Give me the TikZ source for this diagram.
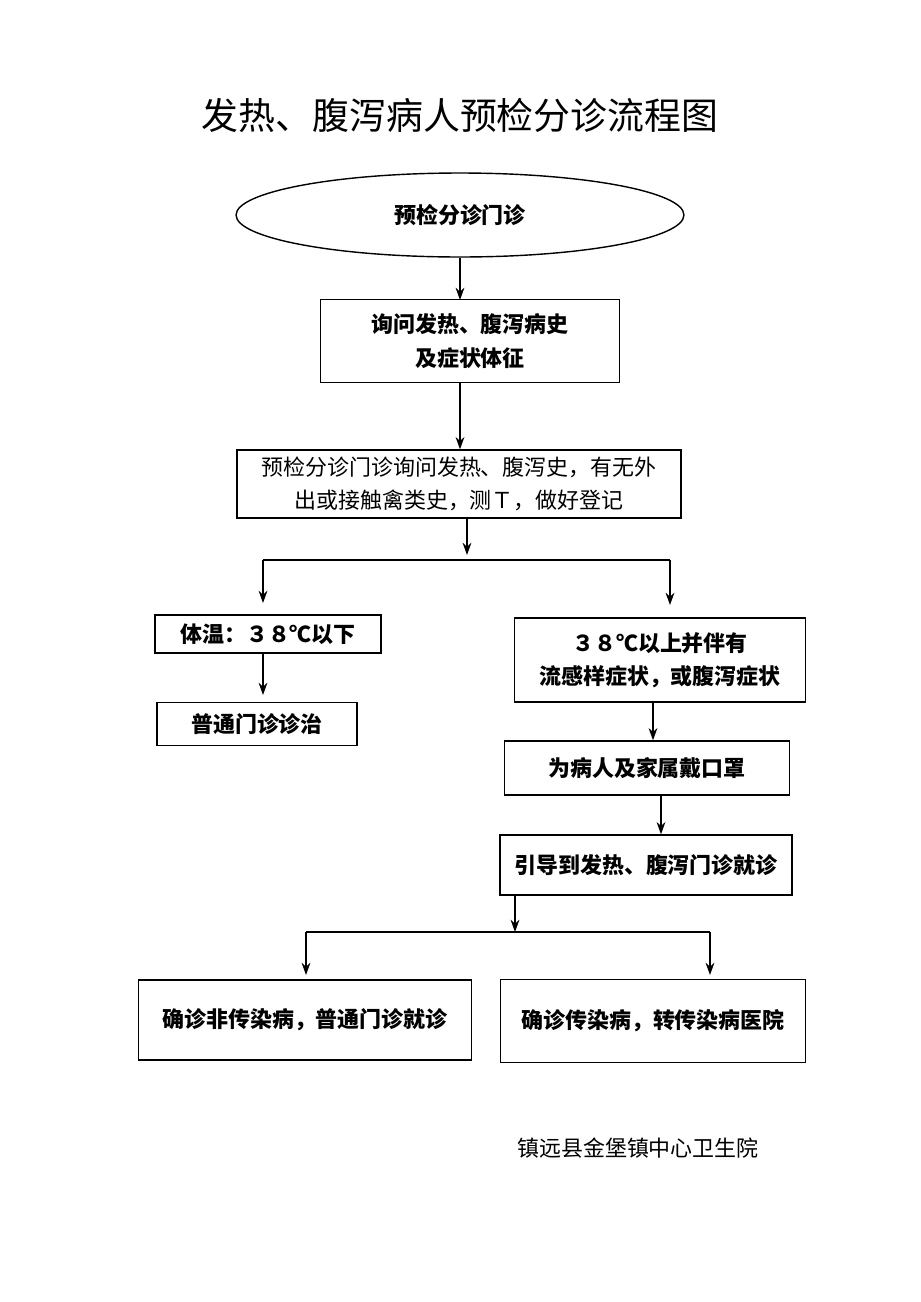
\documentclass[tikz,border=0pt]{standalone}
\usepackage{fontspec}
\setmainfont{Noto Sans CJK SC}
\usetikzlibrary{shapes.geometric,arrows.meta}

\begin{document}
\begin{tikzpicture}[
		x=0.02cm, y=-0.02cm,
		font=\fontsize{12.5pt}{19pt}\selectfont,
		box/.style = {draw, thick, rectangle, inner sep=0pt, align=center},
		bold/.style = {font=\fontsize{12.5pt}{19pt}\selectfont\bfseries},
		arr/.style = {-{Stealth[length=7pt,width=5pt]}, thick},
		line/.style = {-, thick}
	]
	\useasboundingbox (0,0) rectangle (920,1302);
	\node[font=\fontsize{21pt}{25pt}\selectfont] (title) at (460,115) {发热、腹泻病人预检分诊流程图};
	\node[draw, thick, ellipse, inner sep=0pt, bold,
		minimum width=8.96cm, minimum height=1.68cm] (start) at (460,215) {预检分诊门诊};
	\node[box, bold, minimum width=5.98cm, minimum height=1.66cm] (ask) at (470,341) {询问发热、腹泻病史\\及症状体征};
	\node[box, minimum width=8.88cm, minimum height=1.36cm] (reg) at (459,484) {预检分诊门诊询问发热、腹泻史，有无外\\出或接触禽类史，测Ｔ，做好登记};
	\coordinate (split) at (467,560);
	\coordinate (sl) at (263,560);
	\coordinate (sr) at (670,560);
	\node[box, bold, minimum width=4.52cm, minimum height=0.76cm] (low) at (268,634) {体温：３８℃以下};
	\node[box, bold, minimum width=4.00cm, minimum height=0.86cm] (normal) at (257,724) {普通门诊诊治};
	\node[box, bold, minimum width=5.82cm, minimum height=1.68cm] (high) at (660,660) {３８℃以上并伴有\\流感样症状，或腹泻症状};
	\node[box, bold, minimum width=5.70cm, minimum height=1.08cm] (mask) at (647,768) {为病人及家属戴口罩};
	\node[box, bold, minimum width=5.84cm, minimum height=1.20cm] (guide) at (646,865) {引导到发热、腹泻门诊就诊};
	\coordinate (join) at (515,932);
	\coordinate (jl) at (306,932);
	\coordinate (jr) at (710,932);
	\node[box, bold, minimum width=6.66cm, minimum height=1.60cm] (nonc) at (305,1020) {确诊非传染病，普通门诊就诊};
	\node[box, bold, minimum width=6.10cm, minimum height=1.66cm] (inf) at (653,1021) {确诊传染病，转传染病医院};
	\node (sign) at (638,1148) {镇远县金堡镇中心卫生院};
	% connectors
	\draw[arr] (start.south -| 460,0) -- (460,300);
	\draw[arr] (ask.south -| 460,0) -- (reg.north -| 460,0);
	\draw[arr] (reg.south -| split) -- (467,555);
	\draw[line] (sl) -- (sr);
	\draw[arr] (sl) -- (263,603);
	\draw[arr] (sr) -- (670,605);
	\draw[arr] (low.south -| 263,0) -- (263,695);
	\draw[arr] (high.south -| 653,0) -- (mask.north -| 653,0);
	\draw[arr] (mask.south -| 661,0) -- (guide.north -| 661,0);
	\draw[arr] (guide.south -| join) -- (join);
	\draw[line] (jl) -- (jr);
	\draw[arr] (jl) -- (306,975);
	\draw[arr] (jr) -- (710,975);
\end{tikzpicture}
\end{document}
